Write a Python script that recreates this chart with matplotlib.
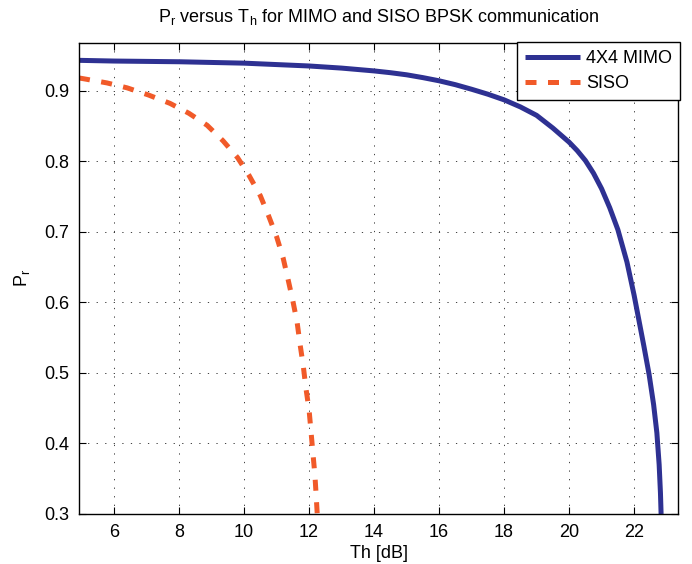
import matplotlib
matplotlib.use("Agg")
import matplotlib.pyplot as plt

plt.rcParams['font.family'] = ['Liberation Sans', 'DejaVu Sans']
plt.rcParams['mathtext.default'] = 'regular'

# ---- data ----
mimo_th = [4.92, 6, 7, 8, 9, 10, 11, 12, 13, 14, 14.5, 15, 15.5, 16, 16.5, 17,
           17.5, 18, 18.5, 19, 19.5, 20, 20.25, 20.5, 20.75, 21, 21.25, 21.5,
           21.78, 22.0, 22.15, 22.3, 22.46, 22.6, 22.7, 22.77, 22.81, 22.83]
mimo_pr = [0.943, 0.942, 0.9415, 0.941, 0.940, 0.939, 0.937, 0.935, 0.932, 0.928,
           0.9255, 0.9225, 0.9185, 0.914, 0.9085, 0.902, 0.895, 0.887, 0.877,
           0.865, 0.847, 0.827, 0.815, 0.801, 0.783, 0.761, 0.734, 0.703,
           0.657, 0.610, 0.574, 0.538, 0.498, 0.455, 0.415, 0.37, 0.33, 0.30]

siso_th = [4.92, 5.05, 5.78, 6.4, 7.05, 7.72, 8.3, 8.86, 9.35, 9.8, 10.15, 10.5,
           10.75, 11.0, 11.2, 11.35, 11.5, 11.63, 11.72, 11.82, 11.9, 12.0, 12.06,
           12.12, 12.18, 12.22, 12.25]
siso_pr = [0.918, 0.917, 0.911, 0.904, 0.894, 0.882, 0.868, 0.851, 0.829, 0.805,
           0.780, 0.751, 0.723, 0.693, 0.663, 0.633, 0.602, 0.572, 0.541, 0.510,
           0.479, 0.447, 0.416, 0.385, 0.354, 0.324, 0.30]

x_ticks = [6, 8, 10, 12, 14, 16, 18, 20, 22]
y_ticks = [0.3, 0.4, 0.5, 0.6, 0.7, 0.8, 0.9]
series_labels = ['4X4 MIMO', 'SISO']

fs = 13
fig = plt.figure(figsize=(6.92, 5.64), dpi=100)
ax = fig.add_axes([79/692, 1 - 514/564, (678-79)/692, (514-42.7)/564])

ax.plot(mimo_th, mimo_pr, color='#2E3192', lw=3.6, solid_capstyle='butt',
        solid_joinstyle='round', label=series_labels[0])
ax.plot(siso_th, siso_pr, color='#F15A29', lw=3.6, linestyle=(0, (2.2, 2.3)),
        dash_capstyle='butt', label=series_labels[1])

ax.set_xlim(4.92, 23.35)
ax.set_ylim(0.3, 0.968)
ax.set_xticks(x_ticks)
ax.set_yticks(y_ticks)
ax.set_xticklabels([str(t) for t in x_ticks], fontsize=fs)
ax.set_yticklabels([f'{t:.1f}' for t in y_ticks], fontsize=fs)
ax.tick_params(direction='in', length=5, width=0.8, top=True, right=True, pad=7)
ax.grid(True, color='black', linestyle=(0, (1.3, 7.5)), linewidth=0.7, alpha=0.75)
for s in ax.spines.values():
    s.set_linewidth(1.0)

ax.set_xlabel('Th [dB]', fontsize=fs, labelpad=3)
ax.set_ylabel(r'$\mathregular{P_r}$', fontsize=fs, labelpad=9)
ax.set_title(r'$\mathregular{P_r}$ versus $\mathregular{T_h}$ for MIMO and SISO BPSK communication',
             fontsize=fs, pad=15)

leg = ax.legend(loc='upper right', bbox_to_anchor=(680/692, 1 - 41.7/564),
                bbox_transform=fig.transFigure, fontsize=fs, frameon=True,
                fancybox=False, framealpha=1, edgecolor='black',
                handlelength=3.0, handletextpad=0.35, borderaxespad=0,
                borderpad=0.45, labelspacing=0.45)
leg.get_frame().set_linewidth(1.0)

fig.savefig('out.png', dpi=100)
